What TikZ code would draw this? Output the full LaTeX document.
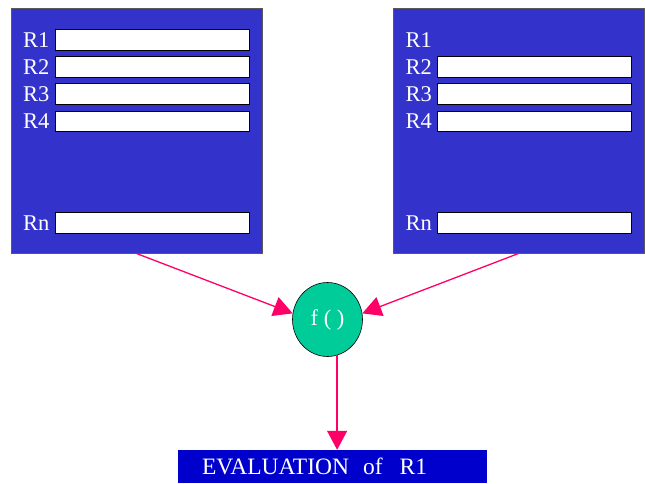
\documentclass[tikz,border=0pt]{standalone}
\usepackage{fontspec}
\setmainfont{Liberation Serif}
\usetikzlibrary{arrows.meta,shapes.geometric}
\definecolor{panelblue}{HTML}{3333CC}
\definecolor{deepblue}{HTML}{0000CC}
\definecolor{fgreen}{HTML}{00CC99}
\definecolor{arrowpink}{HTML}{FF0066}
\tikzset{
  panel/.style={draw=black!65, line width=1pt, fill=panelblue, inner sep=0pt,
    minimum width=251pt, minimum height=244pt},
  field/.style={draw=black, line width=0.8pt, fill=white, inner sep=0pt,
    minimum width=194pt, minimum height=20.5pt},
  rlabel/.style={text=white, inner sep=0pt, anchor=east,
    font=\fontsize{22.5}{24}\selectfont},
  func/.style={ellipse, draw=black, line width=0.6pt, fill=fgreen, inner sep=0pt,
    minimum width=70pt, minimum height=74pt, text=white,
    font=\fontsize{22.5}{24}\selectfont},
  result/.style={fill=deepblue, inner xsep=24pt, inner ysep=0pt,
    text width=261pt, align=left, minimum height=33pt, text=white,
    font=\fontsize{23.5}{25}\selectfont},
  flow/.style={draw=arrowpink, line width=1.3pt,
    -{Triangle[length=19pt,width=20pt]}}
}
\begin{document}
\begin{tikzpicture}[x=1pt,y=-1pt]
\useasboundingbox (0,0) rectangle (645,484);

% left record panel
\node[panel] (L) at (136.5,131) {};
\node[field] (l1) at (152,40) {};
\node[field] (l2) at (152,67) {};
\node[field] (l3) at (152,94) {};
\node[field] (l4) at (152,121.5) {};
\node[field] (ln) at (152,223) {};
\node[rlabel] (tl1) at ([xshift=-5pt]l1.west) {R1};
\node[rlabel] (tl2) at ([xshift=-5pt]l2.west) {R2};
\node[rlabel] (tl3) at ([xshift=-5pt]l3.west) {R3};
\node[rlabel] (tl4) at ([xshift=-5pt]l4.west) {R4};
\node[rlabel] (tln) at ([xshift=-5pt]ln.west) {Rn};

% right record panel (R1 left empty)
\node[panel] (R) at (518.5,131) {};
\node[field] (r2) at (534.5,67) {};
\node[field] (r3) at (534.5,94) {};
\node[field] (r4) at (534.5,121.5) {};
\node[field] (rn) at (534.5,223) {};
\coordinate (r1) at (437,40);
\node[rlabel] (tr1) at ([xshift=-5pt]r1) {R1};
\node[rlabel] (tr2) at ([xshift=-5pt]r2.west) {R2};
\node[rlabel] (tr3) at ([xshift=-5pt]r3.west) {R3};
\node[rlabel] (tr4) at ([xshift=-5pt]r4.west) {R4};
\node[rlabel] (trn) at ([xshift=-5pt]rn.west) {Rn};

% comparison function
\node[func] (F) at (327.5,319.5) {f ( )};

% result
\node[result] (E) at (332.5,466.5) {EVALUATION\hspace{14pt}of\hspace{17pt}R1};

% connectors
\draw[flow] (L.south) -- (F.170);
\draw[flow] (R.south) -- (F.10);
\draw[flow] (F.-75) -- (F.-75 |- E.north);
\end{tikzpicture}
\end{document}
